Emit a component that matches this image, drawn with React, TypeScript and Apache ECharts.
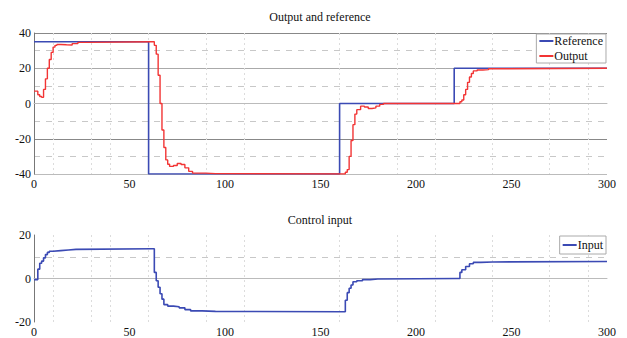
import React, { useEffect, useRef } from "react";
import * as echarts from "echarts";

// ---- data ----
const REF_T = [0, 60, 60, 160, 160, 220, 220, 300];
const REF_Y = [35, 35, -40, -40, 0, 0, 20, 20];

const OUT_T = [0, 1, 2, 3, 4, 5, 6, 7, 8, 9, 10, 11, 12, 14, 17, 20, 23, 27, 62, 63, 64, 65, 66, 67, 68, 69, 70, 71, 73, 75, 77, 79, 81, 83, 90, 95, 162, 163, 164, 165, 166, 167, 168, 169, 171, 173, 175, 177, 179, 181, 183, 222, 223, 224, 225, 226, 227, 228, 229, 230, 232, 235, 238, 240, 300];
const OUT_Y = [7, 7, 5, 4, 3.5, 8, 14, 20, 25, 29, 32, 33, 33.5, 33.3, 33.2, 34, 34.7, 35, 35, 33, 28, 16, 0, -15, -25, -32, -34.5, -35.7, -35.2, -34, -34.6, -36.5, -38.5, -39.5, -39.8, -40, -40, -39, -37.5, -30, -21, -12, -6, -3.5, -1.5, -2, -2.8, -2.5, -1.5, -0.5, 0, 0, 1, 2, 5, 8, 12, 15, 17, 18.5, 19, 19.2, 19.7, 20, 20];

const IN_T = [0, 1, 2, 3, 4, 5, 6, 7, 8, 10, 14, 18, 22, 62, 63, 64, 65, 66, 67, 68, 70, 73, 76, 79, 82, 88, 95, 162, 163, 164, 165, 166, 167, 169, 172, 176, 180, 222, 223, 224, 226, 228, 230, 234, 240, 300];
const IN_U = [-0.5, -0.5, 4.3, 7, 8, 9.5, 11, 12, 12.5, 12.8, 13.1, 13.4, 13.7, 13.7, 2.8, -1, -4, -7, -9.5, -12, -12.7, -13, -13.5, -14.3, -14.9, -15.1, -15.3, -15.3, -10, -6.5, -4.5, -3, -1.5, -1, -0.5, -0.2, 0, 0, 2.8, 4, 5.5, 6.8, 7.4, 7.6, 7.8, 7.8];

const X_TICKS = [0, 50, 100, 150, 200, 250, 300];
const VGRID = [10, 30, 40, 60, 90, 110, 160, 190, 210, 240, 270, 290];

const TITLE_TOP = "Output and reference";
const TITLE_BOTTOM = "Control input";

const zip = (a: number[], b: number[]) => a.map((v, i) => [v, b[i]]);

const FONT = "serif";
const BLUE = "#3b4ab4";
const RED = "#f23434";

export default function App() {
  const ref = useRef<HTMLDivElement>(null);
  useEffect(() => {
    if (!ref.current) return;
    const chart = echarts.init(ref.current, undefined, { renderer: "svg" });
    const vColors: string[] = [];
    for (let v = 0; v <= 300; v += 10) vColors.push(VGRID.includes(v) ? "#dcdcdc" : "rgba(0,0,0,0)");
    const labelStyle = { color: "#111", fontFamily: FONT, fontSize: 12 };
    const xMain = (gi: number) => ({
      type: "value", gridIndex: gi, min: X_TICKS[0], max: X_TICKS[X_TICKS.length - 1], interval: X_TICKS[1] - X_TICKS[0],
      axisLine: { show: true, lineStyle: { color: "#bbb" } }, axisTick: { show: false },
      axisLabel: { ...labelStyle, margin: 4 }, splitLine: { show: false },
    });
    const xGrid = (gi: number) => ({
      type: "value", gridIndex: gi, min: 0, max: 300, interval: 10, position: "top",
      axisLine: { show: false }, axisTick: { show: false }, axisLabel: { show: false },
      splitLine: { show: true, lineStyle: { color: vColors, type: [2, 3], width: 1 } },
    });
    chart.setOption({
      animation: false,
      textStyle: { fontFamily: FONT },
      graphic: [
        { type: "text", x: 320, y: 17, style: { text: TITLE_TOP, fontFamily: FONT, fontSize: 12, fill: "#111", align: "center", verticalAlign: "middle" } },
        { type: "text", x: 320, y: 220, style: { text: TITLE_BOTTOM, fontFamily: FONT, fontSize: 12, fill: "#111", align: "center", verticalAlign: "middle" } },
      ],
      grid: [
        { left: 34, right: 20, top: 33, height: 141 },
        { left: 34, right: 20, top: 235, height: 89 },
      ],
      xAxis: [xMain(0), xGrid(0), xMain(1), xGrid(1)],
      yAxis: [
        {
          type: "value", gridIndex: 0, min: -40, max: 40, interval: 20,
          axisLine: { show: false }, axisTick: { show: false },
          axisLabel: { ...labelStyle, margin: 3 },
          splitLine: { show: true, lineStyle: { color: ["#bbb", "#888", "#777", "#aaa", "#888"], width: 1 } },
          minorTick: { show: false, splitNumber: 2 },
          minorSplitLine: { show: true, lineStyle: { color: "#c8c8c8", type: [6, 6], width: 1 } },
        },
        {
          type: "value", gridIndex: 0, min: -40, max: 40, interval: 20, position: "right",
          axisLine: { show: true, lineStyle: { color: "#777" } }, axisTick: { show: false }, axisLabel: { show: false },
          splitLine: { show: false },
        },
        {
          type: "value", gridIndex: 1, min: -20, max: 20, interval: 20,
          axisLine: { show: false }, axisTick: { show: false },
          axisLabel: { ...labelStyle, margin: 3 },
          splitLine: { show: true, lineStyle: { color: ["rgba(0,0,0,0)", "#ccc", "rgba(0,0,0,0)"], width: 1 } },
        },
        {
          type: "value", gridIndex: 1, min: -20, max: 20, interval: 10, position: "right",
          axisLine: { show: true, lineStyle: { color: "#777" } }, axisTick: { show: false }, axisLabel: { show: false },
          splitLine: { show: true, lineStyle: { color: ["rgba(0,0,0,0)", "rgba(0,0,0,0)", "rgba(0,0,0,0)", "#c8c8c8", "rgba(0,0,0,0)"], type: [6, 6], width: 1 } },
        },
      ],
      legend: [
        {
          data: [{ name: "Reference", icon: "rect" }, { name: "Output", icon: "rect" }],
          orient: "vertical", right: 21, top: 34, itemWidth: 14, itemHeight: 2, itemGap: 3,
          padding: [1, 3, 1, 3], borderColor: "#aaa", borderWidth: 1, borderRadius: 0, backgroundColor: "#fff",
          textStyle: { ...labelStyle, padding: [0, 0, 0, -4] },
        },
        {
          data: [{ name: "Input", icon: "rect" }],
          orient: "vertical", right: 21, top: 236, itemWidth: 14, itemHeight: 2,
          padding: [3, 3, 3, 3], borderColor: "#aaa", borderWidth: 1, borderRadius: 0, backgroundColor: "#fff",
          textStyle: { ...labelStyle, padding: [0, 0, 0, -4] },
        },
      ],
      series: [
        {
          name: "Reference", type: "line", xAxisIndex: 0, yAxisIndex: 0, data: zip(REF_T, REF_Y),
          symbol: "none", color: BLUE, lineStyle: { color: BLUE, width: 1.6 }, z: 2,
        },
        {
          name: "Output", type: "line", xAxisIndex: 0, yAxisIndex: 0, data: zip(OUT_T, OUT_Y), step: "end",
          symbol: "none", color: RED, lineStyle: { color: RED, width: 1.4 }, z: 3,
        },
        {
          name: "Input", type: "line", xAxisIndex: 2, yAxisIndex: 2, data: zip(IN_T, IN_U), step: "end",
          symbol: "none", color: BLUE, lineStyle: { color: BLUE, width: 1.6 }, z: 3,
        },
      ],
    });
    return () => chart.dispose();
  }, []);
  return <div ref={ref} style={{ position: "absolute", left: 0, top: 0, width: 627, height: 338 }} />;
}
